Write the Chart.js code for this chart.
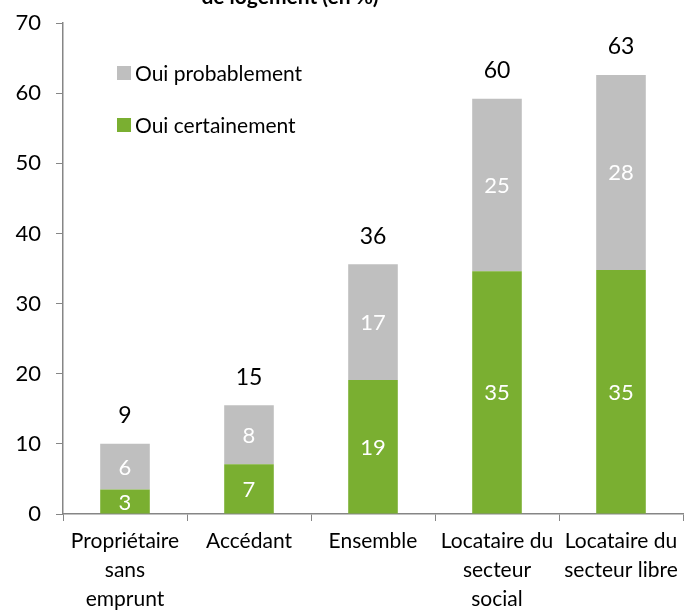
<!DOCTYPE html>
<html>
<head>
<meta charset="utf-8">
<script src="https://cdn.jsdelivr.net/npm/chart.js@4/dist/chart.umd.min.js"></script>
<style>
  html, body { margin: 0; padding: 0; background: #fff; }
  #wrap { width: 694px; height: 610px; }
</style>
</head>
<body>
<div id="wrap"><canvas id="chart" width="694" height="610"></canvas></div>
<script>
// categories and values
var categories = [
    ['Propriétaire', 'sans', 'emprunt'],
    'Accédant',
    'Ensemble',
    ['Locataire du', 'secteur', 'social'],
    ['Locataire du', 'secteur libre']
];
var certainement = [3.5, 7.1, 19.1, 34.6, 34.8];
var probablement = [6.5, 8.4, 16.5, 24.6, 27.8];
var labelsCertainement = ['3', '7', '19', '35', '35'];
var labelsProbablement = ['6', '8', '17', '25', '28'];
var labelsTotal = ['9', '15', '36', '60', '63'];
var yTicks = [0, 10, 20, 30, 40, 50, 60, 70];

var GREEN = '#7aaf31';
var GREY = '#bfbfbf';
var AXIS = '#868686';
var FONT = 'Lato, "Open Sans", sans-serif';

// value labels inside and above bars
var valueLabels = {
    id: 'valueLabels',
    afterDatasetsDraw: function (chart) {
        var ctx = chart.ctx;
        var texts = [labelsCertainement, labelsProbablement];
        ctx.save();
        ctx.textAlign = 'center';
        ctx.textBaseline = 'middle';
        ctx.font = '22px ' + FONT;
        ctx.fillStyle = '#ffffff';
        [0, 1].forEach(function (d) {
            chart.getDatasetMeta(d).data.forEach(function (bar, i) {
                ctx.fillText(texts[d][i], bar.x, (bar.y + bar.base) / 2 + 1);
            });
        });
        ctx.fillStyle = '#000000';
        ctx.font = '23px ' + FONT;
        chart.getDatasetMeta(1).data.forEach(function (bar, i) {
            ctx.fillText(labelsTotal[i], bar.x, bar.y - 28);
        });
        ctx.restore();
    }
};

// legend drawn inside the plot, grey entry first
var insideLegend = {
    id: 'insideLegend',
    afterDraw: function (chart) {
        var ctx = chart.ctx;
        var items = [chart.data.datasets[1], chart.data.datasets[0]];
        ctx.save();
        ctx.font = '21px ' + FONT;
        ctx.textBaseline = 'middle';
        items.forEach(function (ds, i) {
            var y = 73 + i * 52;
            ctx.fillStyle = ds.backgroundColor;
            ctx.fillRect(117, y - 7, 14, 14);
            ctx.fillStyle = '#000';
            ctx.fillText(ds.label, 135, y + 1);
        });
        // title, mostly cut off at the top
        ctx.font = 'bold 21px ' + FONT;
        ctx.textAlign = 'center';
        ctx.textBaseline = 'alphabetic';
        ctx.fillText('de logement (en %)', 290, 4);
        ctx.restore();
    }
};

new Chart(document.getElementById('chart').getContext('2d'), {
    type: 'bar',
    data: {
        labels: categories,
        datasets: [{
            label: 'Oui certainement',
            data: certainement,
            backgroundColor: GREEN
        }, {
            label: 'Oui probablement',
            data: probablement,
            backgroundColor: GREY
        }]
    },
    options: {
        responsive: false,
        animation: false,
        layout: { autoPadding: false, padding: { top: 23, right: 11, left: 0, bottom: 0 } },
        plugins: {
            legend: { display: false },
            tooltip: { enabled: false }
        },
        datasets: { bar: { categoryPercentage: 1, barPercentage: 0.4 } },
        scales: {
            x: {
                stacked: true,
                grid: { offset: true, drawOnChartArea: false, color: AXIS, tickLength: 7 },
                border: { color: AXIS, width: 1.5 },
                ticks: { color: '#000', font: { family: FONT, size: 21, lineHeight: 1.38 }, padding: 6, maxRotation: 0, autoSkip: false },
                afterFit: function (s) { s.height = 96; }
            },
            y: {
                stacked: true,
                min: 0,
                max: 70,
                afterBuildTicks: function (s) { s.ticks = yTicks.map(function (v) { return { value: v }; }); },
                grid: { drawOnChartArea: false, color: AXIS, tickLength: 7 },
                border: { color: AXIS, width: 1.5 },
                ticks: { color: '#000', font: { family: FONT, size: 22 }, padding: 15 },
                afterFit: function (s) {
                    s.width = 63;
                    s.paddingTop = 0;
                    s.paddingBottom = 0;
                }
            }
        }
    },
    plugins: [valueLabels, insideLegend]
});
</script>
</body>
</html>
